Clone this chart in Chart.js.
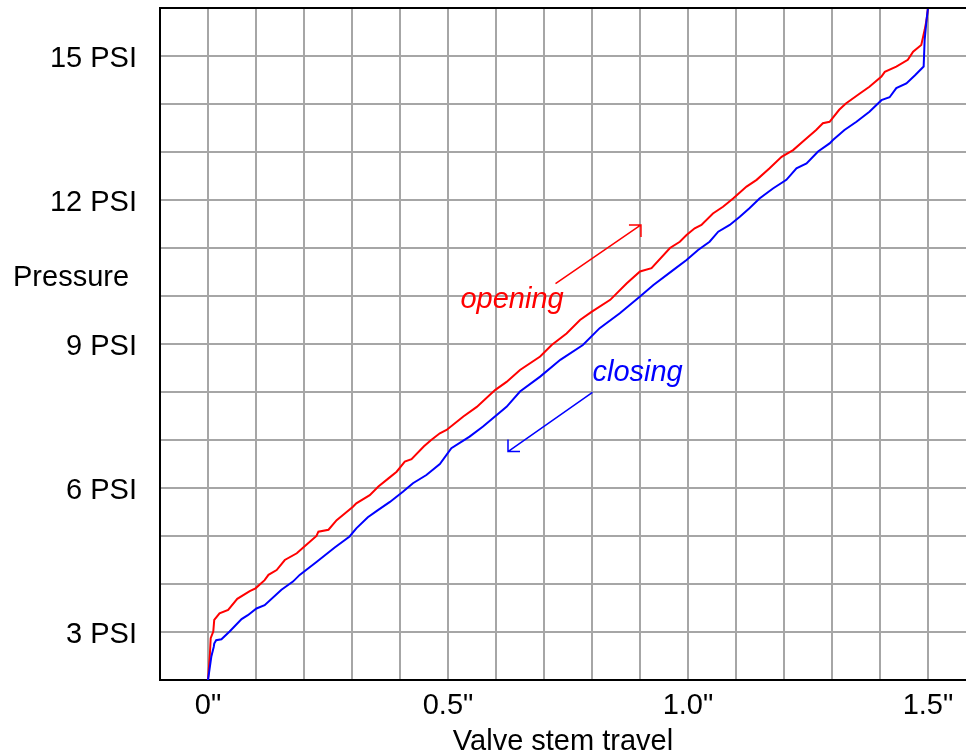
<!DOCTYPE html>
<html>
<head>
<meta charset="utf-8">
<script src="https://cdn.jsdelivr.net/npm/chart.js@4.4.1/dist/chart.umd.min.js"></script>
<style>
html,body{margin:0;padding:0;background:#fff;}
#wrap{width:966px;height:756px;position:relative;}
</style>
</head>
<body>
<div id="wrap"><canvas id="c"></canvas></div>
<script>
// ---- Data ----
const openingTravel = [0, 0.004, 0.0056, 0.011, 0.013, 0.024, 0.042, 0.061, 0.087, 0.099, 0.118, 0.126, 0.143, 0.16, 0.185, 0.202, 0.226, 0.23, 0.251, 0.268, 0.285, 0.302, 0.309, 0.337, 0.355, 0.376, 0.393, 0.41, 0.424, 0.45, 0.465, 0.483, 0.497, 0.532, 0.56, 0.598, 0.622, 0.65, 0.692, 0.716, 0.747, 0.775, 0.799, 0.838, 0.872, 0.9, 0.924, 0.9625, 0.983, 0.997, 1.014, 1.028, 1.052, 1.073, 1.094, 1.122, 1.143, 1.17, 1.195, 1.219, 1.243, 1.267, 1.281, 1.295, 1.315, 1.329, 1.358, 1.378, 1.403, 1.41, 1.434, 1.458, 1.469, 1.486, 1.493, 1.497, 1.5];
const openingPsi = [2.0, 2.55, 2.87, 3.01, 3.25, 3.39, 3.46, 3.69, 3.85, 3.91, 4.08, 4.19, 4.29, 4.5, 4.64, 4.79, 5.0, 5.09, 5.13, 5.33, 5.47, 5.61, 5.68, 5.85, 6.03, 6.2, 6.34, 6.55, 6.6, 6.87, 7.0, 7.14, 7.21, 7.49, 7.69, 8.04, 8.21, 8.46, 8.74, 8.98, 9.22, 9.5, 9.67, 9.92, 10.26, 10.51, 10.58, 11.0, 11.13, 11.27, 11.41, 11.48, 11.72, 11.86, 12.03, 12.28, 12.42, 12.66, 12.9, 13.04, 13.25, 13.46, 13.6, 13.63, 13.88, 14.01, 14.22, 14.36, 14.57, 14.67, 14.78, 14.92, 15.09, 15.23, 15.54, 15.75, 16.0];

const closingTravel = [0, 0.007, 0.012, 0.013, 0.017, 0.028, 0.045, 0.07, 0.083, 0.101, 0.118, 0.153, 0.177, 0.191, 0.226, 0.264, 0.295, 0.309, 0.333, 0.354, 0.379, 0.406, 0.427, 0.455, 0.483, 0.507, 0.545, 0.573, 0.622, 0.65, 0.692, 0.734, 0.781, 0.816, 0.858, 0.9, 0.928, 0.969, 0.997, 1.021, 1.045, 1.063, 1.087, 1.108, 1.128, 1.149, 1.177, 1.205, 1.226, 1.247, 1.271, 1.295, 1.302, 1.326, 1.351, 1.378, 1.403, 1.42, 1.434, 1.455, 1.473, 1.491, 1.493, 1.497, 1.5];
const closingPsi = [2.0, 2.49, 2.69, 2.76, 2.83, 2.85, 3.01, 3.27, 3.35, 3.49, 3.56, 3.88, 4.05, 4.19, 4.46, 4.76, 4.99, 5.16, 5.39, 5.54, 5.71, 5.92, 6.1, 6.27, 6.5, 6.83, 7.07, 7.28, 7.69, 8.01, 8.32, 8.67, 8.98, 9.33, 9.64, 9.99, 10.23, 10.54, 10.75, 10.96, 11.13, 11.34, 11.48, 11.65, 11.83, 12.03, 12.24, 12.42, 12.66, 12.76, 13.01, 13.18, 13.25, 13.46, 13.63, 13.84, 14.08, 14.14, 14.33, 14.43, 14.6, 14.78, 15.33, 15.75, 16.0];

const xTickLabels = ['0"', '0.5"', '1.0"', '1.5"'];   // every 0.5 inch
const xTickValues = [0, 0.5, 1.0, 1.5];
const yTickValues = [3, 6, 9, 12, 15];
const yTickLabels = ['3 PSI', '6 PSI', '9 PSI', '12 PSI', '15 PSI'];

// ---- Chart ----
const FONT = '"Liberation Sans", Arial, Helvetica, sans-serif';
Chart.defaults.font.family = FONT;
Chart.defaults.color = '#000';

function toPoints(xs, ys) { return xs.map((v, i) => ({x: v, y: ys[i]})); }

const annotations = {
  id: 'annotations',
  afterDraw(chart) {
    const {ctx, chartArea: a, scales: {x, y}} = chart;
    ctx.save();
    // top frame line
    ctx.strokeStyle = '#000';
    ctx.lineWidth = 2;
    ctx.beginPath();
    ctx.moveTo(a.left - 1, a.top);
    ctx.lineTo(a.right, a.top);
    ctx.stroke();

    // "Pressure" label
    ctx.fillStyle = '#000';
    ctx.font = '29px ' + FONT;
    ctx.textAlign = 'left';
    ctx.textBaseline = 'middle';
    ctx.fillText('Pressure', 13, y.getPixelForValue(10.375));

    // opening label + arrow
    ctx.font = 'italic 29px ' + FONT;
    ctx.textBaseline = 'alphabetic';
    ctx.fillStyle = '#ff0000';
    ctx.fillText('opening', x.getPixelForValue(0.526), y.getPixelForValue(9.74));
    ctx.strokeStyle = '#ff0000';
    ctx.lineWidth = 1.5;
    let sx = x.getPixelForValue(0.724), sy = y.getPixelForValue(10.26);
    let ex = x.getPixelForValue(0.902), ey = y.getPixelForValue(11.48);
    ctx.beginPath();
    ctx.moveTo(sx, sy); ctx.lineTo(ex, ey);
    ctx.moveTo(ex - 12, ey); ctx.lineTo(ex, ey); ctx.lineTo(ex, ey + 12);
    ctx.stroke();

    // closing label + arrow
    ctx.fillStyle = '#0000ff';
    ctx.fillText('closing', x.getPixelForValue(0.801), y.getPixelForValue(8.23));
    ctx.strokeStyle = '#0000ff';
    sx = x.getPixelForValue(0.801); sy = y.getPixelForValue(7.99);
    ex = x.getPixelForValue(0.625); ey = y.getPixelForValue(6.76);
    ctx.beginPath();
    ctx.moveTo(sx, sy); ctx.lineTo(ex, ey);
    ctx.moveTo(ex, ey - 12); ctx.lineTo(ex, ey); ctx.lineTo(ex + 12, ey);
    ctx.stroke();
    ctx.restore();
  }
};

new Chart(document.getElementById('c'), {
  type: 'scatter',
  data: {
    datasets: [
      {
        label: 'opening',
        data: toPoints(openingTravel, openingPsi),
        showLine: true,
        borderColor: '#ff0000',
        backgroundColor: '#ff0000',
        borderWidth: 2,
        pointRadius: 0,
        tension: 0,
        order: 1
      },
      {
        label: 'closing',
        data: toPoints(closingTravel, closingPsi),
        showLine: true,
        borderColor: '#0000ff',
        backgroundColor: '#0000ff',
        borderWidth: 2,
        pointRadius: 0,
        tension: 0,
        order: 0
      }
    ]
  },
  options: {
    responsive: true,
    maintainAspectRatio: false,
    animation: false,
    layout: {padding: {top: 8, left: 0, right: 0, bottom: 0}},
    plugins: {legend: {display: false}, tooltip: {enabled: false}},
    scales: {
      x: {
        type: 'linear',
        min: -0.1,
        max: 1.5792,
        grid: {color: '#a6a6a6', lineWidth: 2, drawTicks: false},
        border: {display: true, color: '#000', width: 2},
        ticks: {
          stepSize: 0.1,
          includeBounds: false,
          autoSkip: false,
          maxRotation: 0,
          minRotation: 0,
          padding: 9,
          font: {size: 29},
          color: '#000',
          callback: (v) => {
            const i = xTickValues.findIndex(t => Math.abs(t - v) < 1e-6);
            return i >= 0 ? xTickLabels[i] : '';
          }
        },
        title: {display: true, text: 'Valve stem travel', font: {size: 29, lineHeight: 1}, padding: 0, color: '#000'},
        afterFit: (s) => { s.height = 76; s.paddingLeft = 0; s.paddingRight = 0; }
      },
      y: {
        type: 'linear',
        min: 2,
        max: 16,
        grid: {color: '#a6a6a6', lineWidth: 2, drawTicks: false},
        border: {display: true, color: '#000', width: 2},
        ticks: {
          stepSize: 1,
          autoSkip: false,
          padding: 23,
          labelOffset: 3,
          font: {size: 29},
          color: '#000',
          callback: (v) => {
            const i = yTickValues.indexOf(Math.round(v));
            return (i >= 0 && Math.abs(v - Math.round(v)) < 1e-6) ? yTickLabels[i] : '';
          }
        },
        afterFit: (s) => { s.width = 160; s.paddingTop = 0; s.paddingBottom = 0; }
      }
    }
  },
  plugins: [annotations]
});
</script>
</body>
</html>
